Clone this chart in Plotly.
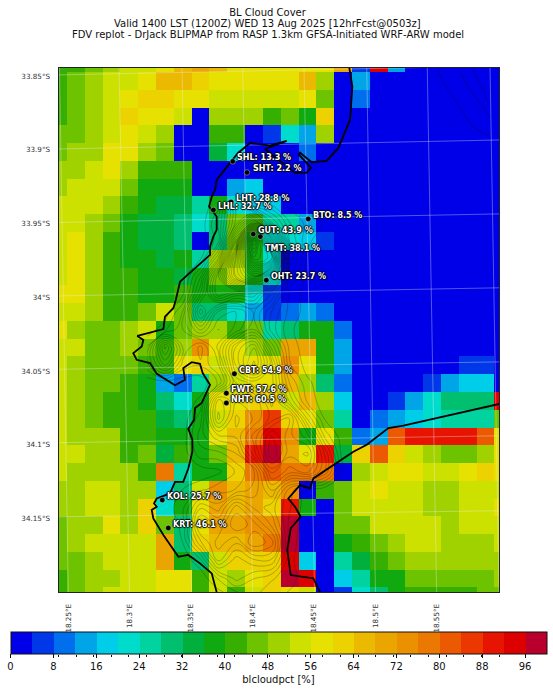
import plotly.graph_objects as go

# ---- data ----
level_colors = [
    "#0000e8", "#0037e8", "#006fee", "#00a5e8", "#00cde8", "#00dccc", "#00d2a0", "#00c070", "#00af3c",
    "#10aa10", "#37af00", "#6ec300", "#a0d200", "#cde100", "#e6e100", "#ebd200", "#ebb900", "#eba500",
    "#eb9100", "#eb7800", "#eb5a00", "#eb3700", "#e61400", "#dc0000", "#b9002d",
]
class_width_pct = 4

cloud_class = [
    [10,10,11,12,13,13,14,16,17,16,14,14,14,14,14,14,17,1,23,3,0,0,0,0,0,0],
    [10,11,12,13,13,14,16,16,15,14,14,14,14,14,16,12,0,3,0,0,0,0,0,0,0,0],
    [10,11,12,13,14,15,15,14,14,13,13,13,13,13,14,11,0,2,0,0,0,0,0,0,0,0],
    [10,11,12,13,15,14,14,13,0,12,12,12,10,11,9,15,0,0,0,0,0,0,0,0,0,0],
    [11,11,12,13,14,13,12,0,0,10,10,0,1,5,3,12,0,0,0,0,0,0,0,0,0,0],
    [11,12,12,14,14,12,11,0,0,8,5,0,0,0,2,0,0,0,0,0,0,0,0,0,0,0],
    [12,12,13,14,12,10,10,10,0,0,0,0,0,0,0,0,0,0,0,0,0,0,0,0,0,0],
    [12,13,13,13,11,9,9,9,0,0,3,4,0,0,0,0,0,0,0,0,0,0,0,0,0,0],
    [13,13,13,12,10,9,8,8,6,9,5,4,4,0,0,0,0,0,0,0,0,0,0,0,0,0],
    [13,13,12,11,9,8,8,7,5,7,11,10,6,6,3,0,0,0,0,0,0,0,0,0,0,0],
    [13,14,12,10,9,8,8,7,0,7,11,9,5,5,4,1,0,0,0,0,0,0,0,0,0,0],
    [13,14,12,10,9,9,8,9,6,12,12,9,5,0,0,0,0,0,0,0,0,0,0,0,0,0],
    [13,14,12,10,10,9,9,8,9,11,13,9,5,0,0,0,0,0,0,0,0,0,0,0,0,0],
    [14,14,12,10,10,9,9,10,9,9,9,5,1,0,0,0,0,0,0,0,0,0,0,0,0,0],
    [13,13,12,10,10,11,13,11,7,7,5,3,1,2,3,2,0,0,0,0,0,0,0,0,0,0],
    [14,12,11,11,12,13,9,11,12,12,10,11,6,7,9,9,2,0,0,0,0,0,0,0,0,0],
    [13,13,11,11,12,11,10,12,18,14,14,12,11,17,17,9,3,0,0,0,0,0,0,0,0,0],
    [13,12,11,11,11,10,10,14,15,13,14,14,14,18,14,9,3,0,0,0,0,0,0,1,1,0],
    [13,12,11,11,10,9,3,2,6,12,13,14,14,16,12,7,2,0,0,0,0,1,3,4,4,0],
    [13,12,11,10,10,9,7,5,9,14,14,15,15,13,16,12,4,0,0,1,3,5,7,7,7,23],
    [13,12,11,10,10,10,8,7,9,13,15,18,21,15,14,11,6,0,2,3,4,5,6,6,6,11],
    [13,12,12,12,10,10,9,9,9,14,16,19,23,18,9,14,10,2,3,20,22,22,22,22,20,14],
    [13,13,12,12,10,11,8,10,9,11,16,22,24,17,14,22,8,15,20,15,13,12,11,11,12,14],
    [13,12,12,12,12,10,19,6,9,9,15,19,20,19,19,19,0,12,13,14,14,13,13,14,15,14],
    [12,12,13,13,12,12,4,7,13,18,16,17,16,18,0,10,11,13,14,13,13,12,12,13,13,13],
    [12,12,13,13,12,15,5,9,14,17,16,17,15,22,9,0,11,13,13,13,13,12,12,13,13,14],
    [11,12,12,14,12,15,11,7,14,17,17,18,18,24,0,0,11,11,13,13,13,13,12,13,13,13],
    [11,12,13,13,13,13,17,7,15,16,16,17,19,24,0,0,9,10,11,12,13,13,12,12,12,13],
    [11,11,12,13,13,13,17,9,7,13,15,15,15,23,4,0,6,8,10,11,12,12,12,12,12,12],
    [10,11,12,12,13,13,14,14,10,13,12,14,15,24,23,0,4,6,9,9,11,11,11,11,11,12],
    [10,11,12,13,13,13,14,14,10,13,10,13,15,14,13,0,1,5,7,9,10,10,10,10,11,11],
]
cell_lon0, cell_dlon = 18.2417, 0.014495
cell_lat0, cell_dlat = -33.8413, -0.01204

# terrain height estimate (m) on the land part of the same grid
terrain_lon0, terrain_lat0 = 18.3142, -33.9376
terrain_m = [
    [0,0,0,0,30,200,90,60,30,10,0,0],
    [0,0,0,0,60,200,350,150,60,30,10,0],
    [0,0,0,0,50,350,900,500,80,20,0,0],
    [0,0,0,10,150,500,800,750,100,10,0,0],
    [0,0,0,100,300,500,600,400,60,5,0,0],
    [0,0,10,150,300,250,250,150,30,5,0,0],
    [0,0,60,250,120,100,150,80,30,5,0,0],
    [0,30,80,150,80,110,170,70,20,0,0,0],
    [40,220,80,30,110,240,300,140,30,0,0,0],
    [50,150,50,40,80,240,330,200,40,5,0,0],
    [0,0,0,0,40,170,200,200,80,20,0,0],
    [0,0,0,20,200,150,150,220,120,30,0,0],
    [0,0,0,50,220,120,150,200,240,100,10,0],
    [0,0,0,70,120,130,200,280,220,180,50,0],
    [0,0,0,50,50,80,180,300,220,240,120,0],
    [0,0,0,0,10,40,80,220,180,200,120,5],
    [0,0,15,30,50,60,90,150,50,5,0,0],
    [0,0,30,120,90,180,120,90,40,0,0,0],
    [0,0,20,180,150,210,180,120,30,0,0,0],
    [0,0,15,120,180,150,210,180,25,0,0,0],
    [0,0,0,30,150,90,120,120,20,0,0,0],
    [0,0,0,0,40,90,60,40,25,0,0,0],
    [0,0,0,0,0,20,40,20,10,0,0,0],
]

west_coast_lon = [18.4788,18.4813,18.4794,18.4699,18.4604,18.4482,18.4387,18.4379,18.4476,18.4441,18.4346,18.4142,18.4102,18.4278,18.4142,18.3980,18.3882,18.3817,18.3708,18.3695,18.3668,18.3646,18.3708,18.3708,18.3681,18.3654,18.3654,18.3546,18.3410,18.3375,18.3355,18.3287,18.3274,18.3062,18.3111,18.3098,18.3029,18.3057,18.3165,18.3220,18.3369,18.3450,18.3436,18.3505,18.3572,18.3594,18.3654,18.3586,18.3532,18.3524,18.3477,18.3510,18.3510,18.3477,18.3436,18.3369,18.3328,18.3220,18.3198,18.3220,18.3179,18.3192,18.3274,18.3396,18.3477,18.3572,18.3668,18.3708]
west_coast_lat = [-33.8444,-33.8572,-33.8798,-33.8988,-33.9076,-33.9085,-33.9020,-33.9035,-33.9123,-33.9155,-33.9157,-33.9022,-33.8995,-33.8940,-33.8972,-33.8954,-33.9022,-33.9089,-33.9205,-33.9272,-33.9318,-33.9385,-33.9453,-33.9543,-33.9589,-33.9656,-33.9713,-33.9792,-33.9894,-34.0018,-34.0074,-34.0131,-34.0216,-34.0262,-34.0289,-34.0334,-34.0379,-34.0424,-34.0446,-34.0519,-34.0596,-34.0560,-34.0480,-34.0440,-34.0451,-34.0514,-34.0593,-34.0717,-34.0751,-34.0831,-34.0892,-34.0966,-34.1047,-34.1161,-34.1251,-34.1251,-34.1330,-34.1364,-34.1398,-34.1420,-34.1442,-34.1499,-34.1612,-34.1759,-34.1747,-34.1804,-34.1872,-34.1999]
east_coast_lon = [18.6015,18.5228,18.5106,18.4930,18.4821,18.4604,18.4495,18.4468,18.4387,18.4291,18.4346,18.4392,18.4311,18.4283,18.4311,18.4495,18.4550]
east_coast_lat = [-34.0722,-34.0871,-34.0887,-34.1000,-34.1047,-34.1169,-34.1228,-34.1296,-34.1273,-34.1364,-34.1420,-34.1488,-34.1567,-34.1713,-34.1883,-34.1906,-34.1999]

offshore_lines = [
    ([18.5510,18.5551,18.5624,18.5690,18.5795,18.5934], [-33.8459,-33.8541,-33.8629,-33.8717,-33.8846,-33.8913]),
    ([18.5690,18.5771,18.5852,18.5934], [-33.8473,-33.8595,-33.8683,-33.8778]),
    ([18.5795,18.5877,18.5918], [-33.8459,-33.8595,-33.8683]),
]

grat_lon_top = [18.2428,18.2913,18.3426,18.3920,18.4419,18.4930,18.5423,18.5934]
grat_lon_bottom = [18.2500,18.2998,18.3503,18.4001,18.4505,18.5001,18.5499,18.6007]
grat_lat_left = [-33.8493,-33.8995,-33.9493,-33.9991,-34.0488,-34.0986,-34.1488]
grat_lat_right = [-33.8432,-33.8934,-33.9435,-33.9936,-34.0438,-34.0939,-34.1447]

station_lon = [18.3839,18.3955,18.3825,18.3681,18.4454,18.4006,18.4063,18.4112,18.3852,18.3787,18.3787,18.3265,18.3314]
station_lat = [-33.9079,-33.9154,-33.9354,-33.9408,-33.9469,-33.9572,-33.9589,-33.9884,-34.0519,-34.0650,-34.0717,-34.1375,-34.1564]
label_lon = [18.3874,18.4004,18.3866,18.3719,18.4493,18.4045,18.4102,18.4151,18.3890,18.3825,18.3825,18.3304,18.3353]
label_lat = [-33.9056,-33.9130,-33.9337,-33.9388,-33.9449,-33.9550,-33.9672,-33.9865,-34.0502,-34.0631,-34.0695,-34.1356,-34.1542]
station_text = ["SHL: 13.3 %","SHT: 2.2 %","LHT: 28.8 %","LHL: 32.7 %","BTO: 8.5 %","GUT: 43.9 %","TMT: 38.1 %",
                "OHT: 23.7 %","CBT: 54.9 %","FWT: 57.6 %","NHT: 60.5 %","KOL: 25.7 %","KRT: 46.1 %"]

x_tick_vals = [18.25,18.30,18.35,18.40,18.45,18.50,18.55]
x_tick_text = ["18.25°E","18.3°E","18.35°E","18.4°E","18.45°E","18.5°E","18.55°E"]
y_tick_vals = [-33.85,-33.90,-33.95,-34.00,-34.05,-34.10,-34.15]
y_tick_text = ["33.85°S","33.9°S","33.95°S","34°S","34.05°S","34.1°S","34.15°S"]
cbar_ticks = [0,8,16,24,32,40,48,56,64,72,80,88,96]

title_lines = ["BL Cloud Cover",
               "Valid 1400 LST (1200Z) WED 13 Aug 2025 [12hrFcst@0503z]",
               "FDV replot - DrJack BLIPMAP from RASP 1.3km GFSA-Initiated WRF-ARW model"]

# ---- figure ----
W, H = 553, 692
FONT = "DejaVu Sans"
n = len(level_colors)
colorscale = []
for i, c in enumerate(level_colors):
    colorscale += [[i / n, c], [(i + 1) / n, c]]

cloud_pct = [[v * class_width_pct + class_width_pct / 2 for v in row] for row in cloud_class]

fig = go.Figure()
fig.add_trace(go.Heatmap(
    z=cloud_pct, x0=cell_lon0, dx=cell_dlon, y0=cell_lat0, dy=cell_dlat,
    zmin=0, zmax=100, colorscale=colorscale, hoverinfo="skip",
    colorbar=dict(
        orientation="h", xref="container", yref="container",
        x=10.5 / W, xanchor="left", y=(H - 632.3) / H, yanchor="top",
        lenmode="pixels", len=536, thickness=22, thicknessmode="pixels",
        xpad=0, ypad=0, outlinecolor="#111", outlinewidth=1,
        tickmode="array", tickvals=cbar_ticks, ticks="outside", ticklen=4, tickcolor="#111", tickwidth=1,
        tickfont=dict(family=FONT, size=10, color="#111"),
        title=dict(text="blcloudpct [%]", side="bottom", font=dict(family=FONT, size=10, color="#111")),
    ),
))
fig.add_trace(go.Contour(
    z=terrain_m, x0=terrain_lon0, dx=cell_dlon, y0=terrain_lat0, dy=cell_dlat,
    contours=dict(coloring="none", start=15, end=900, size=22), autocontour=False,
    line=dict(color="rgba(20,20,0,0.5)", width=0.5, smoothing=1.2),
    showscale=False, hoverinfo="skip",
))

def line(x, y, color, width):
    fig.add_trace(go.Scatter(x=x, y=y, mode="lines", line=dict(color=color, width=width),
                             hoverinfo="skip", showlegend=False))

for lon_t, lon_b in zip(grat_lon_top, grat_lon_bottom):
    line([lon_t, lon_b], [-33.8446, -34.1998], "rgba(235,240,250,0.35)", 1)
for lat_l, lat_r in zip(grat_lat_left, grat_lat_right):
    line([18.2420, 18.6007], [lat_l, lat_r], "rgba(235,240,250,0.35)", 1)
for xs, ys in offshore_lines:
    line(xs, ys, "rgba(0,0,40,0.6)", 0.6)
line(west_coast_lon, west_coast_lat, "#000", 1.8)
line(east_coast_lon, east_coast_lat, "#000", 1.8)

fig.add_trace(go.Scatter(
    x=station_lon, y=station_lat, mode="markers",
    marker=dict(color="#000", size=5.5, line=dict(color="rgba(255,255,255,0.6)", width=0.6)),
    hoverinfo="skip", showlegend=False))
fig.add_trace(go.Scatter(
    x=label_lon, y=label_lat, mode="text", text=station_text, textposition="middle right",
    textfont=dict(family=FONT, size=8, color="#fff", weight="bold",
                  shadow="1px 0 1px #000, -1px 0 1px #000, 0 1px 1px #000, 0 -1px 1px #000"),
    hoverinfo="skip", showlegend=False, cliponaxis=False))

# invisible helper that gives the colour bar its minor ticks
fig.add_trace(go.Scatter(x=[0], y=[-34], xaxis="x2", mode="markers", marker=dict(opacity=0),
                         hoverinfo="skip", showlegend=False))

fig.update_layout(
    width=W, height=H, margin=dict(l=0, r=0, t=0, b=0, pad=0, autoexpand=False),
    paper_bgcolor="#fff", plot_bgcolor="#fff", showlegend=False,
    font=dict(family=FONT, size=10, color="#111"),
    title=dict(text=title_lines[0], x=267.5 / W, xanchor="center", y=1 - 12 / H, yanchor="middle",
               font=dict(family=FONT, size=10, color="#111")),
    xaxis=dict(domain=[58.5 / W, 499 / W], range=[18.2420, 18.6007], tickmode="array",
               tickvals=x_tick_vals, ticktext=x_tick_text, tickangle=-90, ticks="outside", ticklen=8,
               tickcolor="rgba(0,0,0,0)", showgrid=False, zeroline=False, showline=True, mirror=True,
               linecolor="#222", linewidth=1, tickfont=dict(family=FONT, size=7.2, color="#333")),
    yaxis=dict(domain=[1 - 592 / H, 1 - 68 / H], range=[-34.1998, -33.8446], tickmode="array",
               tickvals=y_tick_vals, ticktext=y_tick_text, ticks="outside", ticklen=6,
               tickcolor="rgba(0,0,0,0)", showgrid=False, zeroline=False, showline=True, mirror=True,
               linecolor="#222", linewidth=1, tickfont=dict(family=FONT, size=7.2, color="#333")),
    xaxis2=dict(domain=[10.5 / W, 546.5 / W], range=[0, 100], anchor="free", position=1 - 654.3 / H,
                overlaying="x", side="bottom", dtick=4, ticks="outside", ticklen=2, tickcolor="#111",
                showticklabels=False, showgrid=False, zeroline=False, showline=False),
    annotations=[
        dict(text=title_lines[1], xref="paper", yref="paper", x=267.5 / W, y=1 - 23 / H, showarrow=False,
             xanchor="center", yanchor="middle", font=dict(family=FONT, size=10, color="#111")),
        dict(text=title_lines[2], xref="paper", yref="paper", x=267.5 / W, y=1 - 34.3 / H, showarrow=False,
             xanchor="center", yanchor="middle", font=dict(family=FONT, size=10, color="#111")),
    ],
)
fig.write_html("out.html", config=dict(displayModeBar=False),
               post_script="document.body.style.margin='0';document.body.style.overflow='hidden';")
